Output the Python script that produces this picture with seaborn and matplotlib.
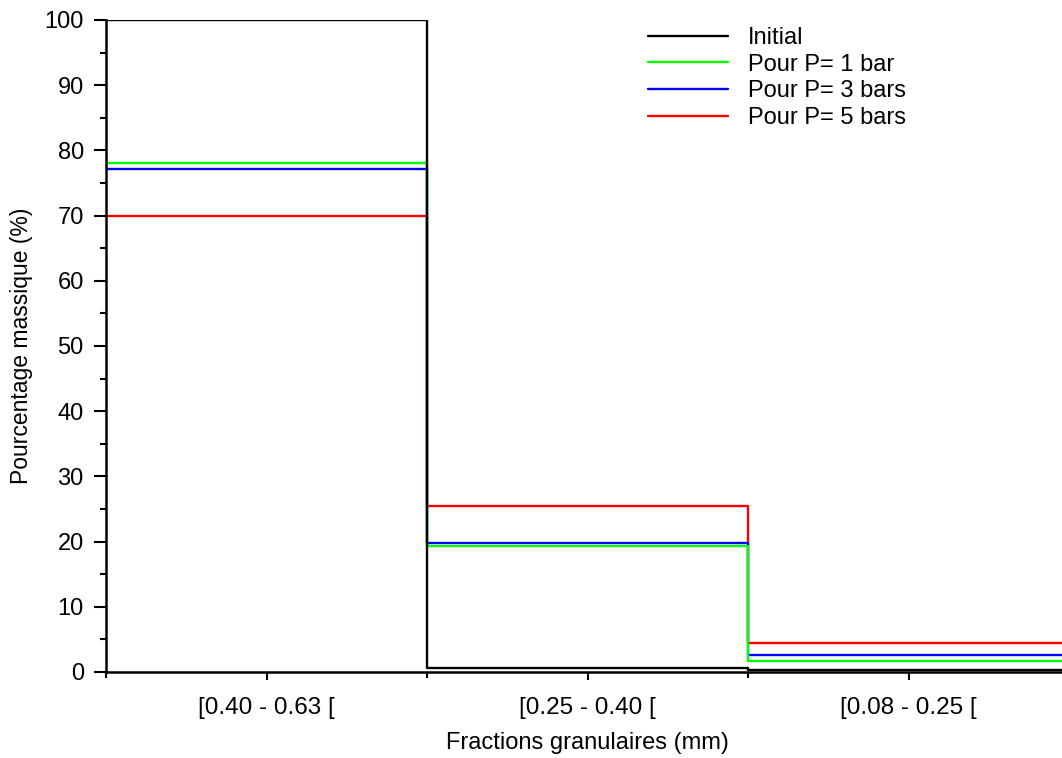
import numpy as np
import pandas as pd
import matplotlib
matplotlib.use("Agg")
import matplotlib.pyplot as plt
from matplotlib.ticker import MultipleLocator, FixedLocator
import seaborn as sns

# Fractions granulaires et pourcentages massiques
fractions = ["[0.40 - 0.63 [", "[0.25 - 0.40 [", "[0.08 - 0.25 ["]
series = ["Initial", "Pour P= 1 bar", "Pour P= 3 bars", "Pour P= 5 bars"]
initial = [100.0, 0.6, 0.25]
p1_bar = [78.1, 19.4, 1.7]
p3_bars = [77.1, 19.8, 2.6]
p5_bars = [69.9, 25.5, 4.4]
colors = ["#000000", "#00ff00", "#0000ff", "#ff0000"]

sns.set_style("ticks", rc={"text.color": "black", "axes.labelcolor": "black",
                           "xtick.color": "black", "ytick.color": "black",
                           "axes.edgecolor": "black"})
plt.rcParams['font.family'] = ['Liberation Sans', 'DejaVu Sans']

# step curves: one value per fraction, repeated at the right edge
edges = np.arange(len(fractions) + 1)
rows = []
for name, vals in zip(series, [initial, p1_bar, p3_bars, p5_bars]):
    vals_ext = list(vals) + [vals[-1]]
    for x, v in zip(edges, vals_ext):
        rows.append({"x": x, "val": v, "serie": name})
df = pd.DataFrame(rows)

fig = plt.figure(figsize=(10.62, 7.58), dpi=100)
ax = fig.add_axes([106 / 1062, 86 / 758, 963 / 1062, 652 / 758])

# draw "Initial" last so it sits on top, as in the original
sns.lineplot(data=df, x="x", y="val", hue="serie", hue_order=series[::-1],
             palette=colors[::-1], drawstyle="steps-post", linewidth=1.7,
             estimator=None, sort=True, ax=ax, legend=False)

ax.set_xlim(0, len(fractions))
ax.set_ylim(0, 100)

ax.spines['top'].set_visible(False)
ax.spines['right'].set_visible(False)
for s in ['left', 'bottom']:
    ax.spines[s].set_linewidth(1.8)

ax.yaxis.set_major_locator(MultipleLocator(10))
ax.yaxis.set_minor_locator(MultipleLocator(5))
ax.xaxis.set_major_locator(FixedLocator(np.arange(len(fractions)) + 0.5))
ax.xaxis.set_minor_locator(FixedLocator(edges))
ax.set_xticklabels(fractions)

ax.tick_params(axis='y', which='major', length=9, width=1.5, labelsize=17, pad=7)
ax.tick_params(axis='y', which='minor', length=4.5, width=1.5)
ax.tick_params(axis='x', which='major', length=6, width=1.5, labelsize=17.5, pad=12)
ax.tick_params(axis='x', which='minor', length=4, width=1.5)

ax.set_xlabel("Fractions granulaires (mm)", fontsize=17, labelpad=9)
ax.set_ylabel("Pourcentage massique (%)", fontsize=16.5, labelpad=8)

handles = [plt.Line2D([], [], color=c, linewidth=1.7) for c in colors]
fig.legend(handles, series, loc='upper left', frameon=False,
           bbox_to_anchor=(648 / 1062, 1 - 27 / 758), fontsize=17,
           handlelength=3.4, handletextpad=0.85, labelspacing=0.2,
           borderpad=0, borderaxespad=0)

fig.savefig("out.png", dpi=100)
